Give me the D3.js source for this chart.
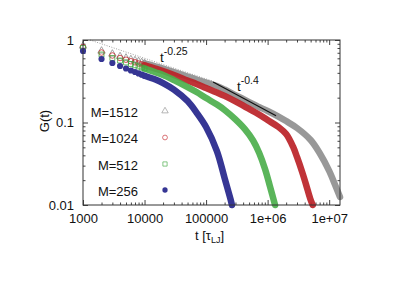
<!DOCTYPE html>
<html>
<head>
<meta charset="utf-8">
<script src="https://cdn.jsdelivr.net/npm/d3@7"></script>
<style>
  body { margin: 0; background: #fff; }
  svg text { font-family: "Liberation Sans", Arial, sans-serif; fill: #111; }
</style>
</head>
<body>
<div id="chart"></div>
<script>
// tick labels
var xTicks = [1000, 10000, 100000, 1e6, 1e7];
var xTickLabels = ["1000", "10000", "100000", "1e+06", "1e+07"];
var yTicks = [0.01, 0.1, 1];
var yTickLabels = ["0.01", "0.1", "1"];

// series
var seriesNames = ["M=1512", "M=1024", "M=512", "M=256"];

var tM1512 = [1000, 2000, 3000, 4000, 5000, 6000, 7000, 8000, 9000, 10000, 15000, 20000, 30000, 50000, 70000,
  1e5, 1.5e5, 2e5, 3e5, 5e5, 7e5, 1e6, 1.5e6, 2e6, 3e6, 5e6, 7e6, 1e7, 1.25e7, 1.5e7];
var gM1512 = [0.846, 0.736, 0.677, 0.631, 0.605, 0.580, 0.564, 0.549, 0.534, 0.522, 0.480, 0.451, 0.409, 0.361, 0.332,
  0.305, 0.277, 0.251, 0.215, 0.177, 0.156, 0.138, 0.118, 0.104, 0.0858, 0.0614, 0.0427, 0.0259, 0.0175, 0.0125];

var tM1024 = [1000, 2000, 3000, 4000, 5000, 6000, 7000, 8000, 9000, 10000, 15000, 20000, 30000, 50000, 70000,
  1e5, 1.5e5, 2e5, 3e5, 5e5, 7e5, 1e6, 1.5e6, 2e6, 2.6e6, 3e6, 3.64e6, 4.23e6, 4.91e6, 5.4e6];
var gM1024 = [0.823, 0.705, 0.649, 0.605, 0.577, 0.553, 0.537, 0.520, 0.506, 0.494, 0.450, 0.421, 0.377, 0.323, 0.293,
  0.262, 0.231, 0.210, 0.180, 0.146, 0.127, 0.107, 0.0882, 0.0725, 0.0505, 0.0382, 0.0251, 0.0175, 0.0120, 0.0100];

var tM512 = [1000, 2000, 3000, 4000, 5000, 6000, 7000, 8000, 9000, 10000, 15000, 20000, 30000, 50000, 70000,
  1e5, 1.5e5, 2e5, 3e5, 4.3e5, 5.8e5, 7.3e5, 9.1e5, 1.1e6, 1.32e6];
var gM512 = [0.800, 0.667, 0.605, 0.564, 0.534, 0.512, 0.494, 0.478, 0.464, 0.451, 0.406, 0.377, 0.327, 0.269, 0.234,
  0.198, 0.165, 0.142, 0.109, 0.0825, 0.0605, 0.0427, 0.0272, 0.0165, 0.0100];

var tM256 = [1000, 2000, 3000, 4000, 5000, 6000, 7000, 8000, 9000, 10000, 15000, 20000, 30000, 50000, 70000,
  1e5, 1.5e5, 2e5, 2.5e5, 2.63e5];
var gM256 = [0.736, 0.589, 0.526, 0.484, 0.451, 0.427, 0.409, 0.393, 0.380, 0.369, 0.332, 0.301, 0.251, 0.182, 0.132,
  0.0882, 0.0451, 0.0212, 0.0117, 0.0100];

// power-law guides
var guide025T = [1300, 130000];
var guide025G = [1.0, 0.316];
var guide04T = [130000, 1370000];
var guide04G = [0.310, 0.1206];

var margin = {top: 40, right: 58, bottom: 76, left: 83},
    width = 398 - margin.left - margin.right,
    height = 281 - margin.top - margin.bottom;

var svg = d3.select("#chart")
  .append("svg")
    .attr("width", 398)
    .attr("height", 281)
  .append("g")
    .attr("transform", "translate(" + margin.left + "," + margin.top + ")");

var x = d3.scaleLog().domain([1000, 1.5e7]).range([0, width]);
var y = d3.scaleLog().domain([0.01, 1]).range([height, 0]);

// minor tick positions
var xMinor = [], yMinor = [];
for (var e = 3; e <= 7; e++) {
  for (var k = 2; k <= 9; k++) {
    var v = k * Math.pow(10, e);
    if (v <= 1.5e7) xMinor.push(v);
  }
}
for (var e = -2; e < 0; e++) {
  for (var k = 2; k <= 9; k++) yMinor.push(k * Math.pow(10, e));
}

function styleAxis(g) {
  g.select(".domain").remove();
  g.selectAll("line").attr("stroke", "#444");
  g.selectAll("text").attr("font-size", 13).attr("font-family", '"Liberation Sans", Arial, sans-serif').attr("fill", "#111");
}

// bottom / left with labels
svg.append("g")
  .attr("transform", "translate(0," + height + ")")
  .call(d3.axisBottom(x).tickValues(xTicks).tickFormat(function(d, i) { return xTickLabels[i]; })
    .tickSizeInner(-5).tickSizeOuter(0).tickPadding(9))
  .call(styleAxis);
svg.append("g")
  .call(d3.axisLeft(y).tickValues(yTicks).tickFormat(function(d, i) { return yTickLabels[i]; })
    .tickSizeInner(-5).tickSizeOuter(0).tickPadding(9))
  .call(styleAxis);

// top / right mirrors, and minor ticks everywhere
svg.append("g")
  .call(d3.axisTop(x).tickValues(xTicks).tickFormat("").tickSizeInner(-5).tickSizeOuter(0))
  .call(styleAxis);
svg.append("g")
  .attr("transform", "translate(" + width + ",0)")
  .call(d3.axisRight(y).tickValues(yTicks).tickFormat("").tickSizeInner(-5).tickSizeOuter(0))
  .call(styleAxis);
svg.append("g")
  .attr("transform", "translate(0," + height + ")")
  .call(d3.axisBottom(x).tickValues(xMinor).tickFormat("").tickSizeInner(-2.5).tickSizeOuter(0))
  .call(styleAxis);
svg.append("g")
  .call(d3.axisTop(x).tickValues(xMinor).tickFormat("").tickSizeInner(-2.5).tickSizeOuter(0))
  .call(styleAxis);
svg.append("g")
  .call(d3.axisLeft(y).tickValues(yMinor).tickFormat("").tickSizeInner(-2.5).tickSizeOuter(0))
  .call(styleAxis);
svg.append("g")
  .attr("transform", "translate(" + width + ",0)")
  .call(d3.axisRight(y).tickValues(yMinor).tickFormat("").tickSizeInner(-2.5).tickSizeOuter(0))
  .call(styleAxis);

// series
var series = [
  {name: seriesNames[0], t: tM1512, g: gM1512, color: "#8e8e8e", band: "#8f8f8f", sym: d3.symbolTriangle, fill: false, size: 24},
  {name: seriesNames[1], t: tM1024, g: gM1024, color: "#c4262b", band: "#bb2227", sym: d3.symbolCircle, fill: false, size: 24},
  {name: seriesNames[2], t: tM512, g: gM512, color: "#3fa83f", band: "#4caf4c", sym: d3.symbolSquare, fill: false, size: 24},
  {name: seriesNames[3], t: tM256, g: gM256, color: "#363694", band: "#363694", sym: d3.symbolCircle, fill: true, size: 30}
];

var line = d3.line()
  .x(function(d) { return x(d.t); })
  .y(function(d) { return y(d.g); })
  .curve(d3.curveCatmullRom.alpha(0.5));

series.forEach(function(s) {
  var pts = s.t.map(function(t, i) { return {t: t, g: s.g[i]}; });
  // markers merge into a solid band once they are dense
  var dense = pts.filter(function(d) { return d.t >= 10000; });
  var sparse = pts.filter(function(d) { return d.t <= 10000; });

  svg.append("path")
    .datum(dense)
    .attr("fill", "none")
    .attr("stroke", s.band)
    .attr("stroke-width", 6.5)
    .attr("stroke-linecap", "round")
    .attr("stroke-opacity", s.fill ? 1 : 0.92)
    .attr("d", line);

  svg.append("g")
    .selectAll("path")
    .data(sparse)
    .enter()
    .append("path")
      .attr("transform", function(d) { return "translate(" + x(d.t) + "," + y(d.g) + ")"; })
      .attr("d", d3.symbol().type(s.sym).size(s.size))
      .attr("fill", s.fill ? s.color : "none")
      .attr("stroke", s.color)
      .attr("stroke-width", s.fill ? 0 : 0.8);
});

// guides
svg.append("path")
  .datum(guide025T.map(function(t, i) { return {t: t, g: guide025G[i]}; }))
  .attr("fill", "none")
  .attr("stroke", "#888")
  .attr("stroke-width", 0.8)
  .attr("stroke-dasharray", "1,1.5")
  .attr("d", d3.line().x(function(d) { return x(d.t); }).y(function(d) { return y(d.g); }));

svg.append("path")
  .datum(guide04T.map(function(t, i) { return {t: t, g: guide04G[i]}; }))
  .attr("fill", "none")
  .attr("stroke", "#111")
  .attr("stroke-width", 1.2)
  .attr("d", d3.line().x(function(d) { return x(d.t); }).y(function(d) { return y(d.g); }));

// frame
svg.append("rect")
  .attr("width", width)
  .attr("height", height)
  .attr("fill", "none")
  .attr("stroke", "#333")
  .attr("stroke-width", 1);

var root = d3.select("#chart svg");

// guide labels
var lab1 = root.append("text").attr("x", 160).attr("y", 62).attr("font-size", 13.5);
lab1.append("tspan").text("t");
lab1.append("tspan").attr("dy", -7).attr("font-size", 10.5).text("-0.25");

var lab2 = root.append("text").attr("x", 237).attr("y", 91).attr("font-size", 13.5);
lab2.append("tspan").text("t");
lab2.append("tspan").attr("dy", -7).attr("font-size", 10.5).text("-0.4");

// legend
var legendY = [116.5, 143, 169.5, 195.5];
series.forEach(function(s, i) {
  root.append("text")
    .attr("x", 138)
    .attr("y", legendY[i])
    .attr("text-anchor", "end")
    .attr("font-size", 13)
    .text(s.name);
  root.append("path")
    .attr("transform", "translate(165," + (legendY[i] - 5.5) + ")")
    .attr("d", d3.symbol().type(s.sym).size(s.fill ? 22 : 18))
    .attr("fill", s.fill ? s.color : "none")
    .attr("stroke", s.color)
    .attr("stroke-width", s.fill ? 0 : 0.8)
    .attr("opacity", s.fill ? 1 : 0.8);
});

// axis titles
var xl = root.append("text").attr("x", 195).attr("y", 240).attr("font-size", 13);
xl.append("tspan").text("t [\u03c4");
xl.append("tspan").attr("dy", 3).attr("font-size", 9).text("LJ");
xl.append("tspan").attr("dy", -3).text("]");

root.append("text")
  .attr("transform", "translate(49,121) rotate(-90)")
  .attr("text-anchor", "middle")
  .attr("font-size", 13)
  .text("G(t)");
</script>
</body>
</html>
